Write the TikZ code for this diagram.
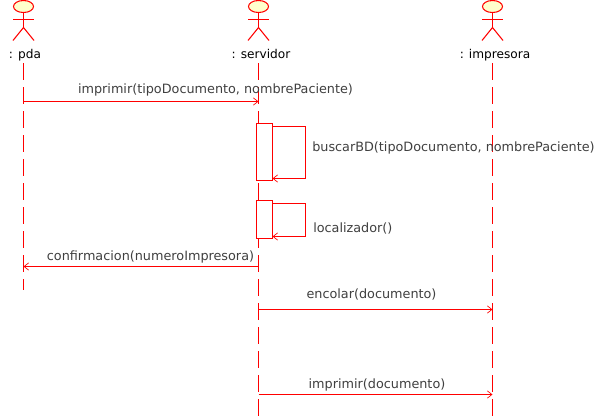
\documentclass[tikz,border=0pt]{standalone}
\usepackage{fontspec}
\setmainfont{DejaVu Sans}
\usetikzlibrary{arrows.meta,shapes.geometric}
\definecolor{umlred}{HTML}{FF0000}
\definecolor{umlhead}{HTML}{FFFFCC}
\definecolor{msgtext}{HTML}{404040}
\tikzset{
  x=0.75pt,y=-0.75pt,
  umlline/.style={draw=umlred,line width=0.8pt},
  lifeline/.style={umlline,dash pattern=on 12.75pt off 5.25pt},
  msgarrow/.style={umlline,-{Straight Barb[length=3.5pt,width=5.5pt,line width=0.5pt]}},
  msglabel/.style={text=msgtext,font=\fontsize{9.6}{11}\selectfont,inner sep=0pt,anchor=base},
  msgleft/.style={msglabel,anchor=base west},
  actorlabel/.style={text=black,font=\fontsize{9.1}{11}\selectfont,inner sep=0pt,anchor=base},
  headshape/.style={umlline,fill=umlhead,ellipse,minimum width=15pt,minimum height=9pt,inner sep=0pt,outer sep=0pt},
  actbox/.style={umlline,fill=white,minimum width=12pt,inner sep=0pt,outer sep=0pt,anchor=north west},
}
\newcommand{\actor}[2]{%
  \node[headshape] (#1head) at (#2,6.5) {};
  \coordinate (#1hip) at (#2,27.5);
  \coordinate (#1arml) at (#2-10.5,19.5);
  \coordinate (#1armr) at (#2+10.5,19.5);
  \coordinate (#1legl) at (#2-10.5,40.5);
  \coordinate (#1legr) at (#2+10.5,40.5);
  \draw[umlline] (#1head.south) -- (#1hip);
  \draw[umlline] (#1arml) -- (#1armr);
  \draw[umlline] (#1legl) -- (#1hip) -- (#1legr);
}
\begin{document}
\begin{tikzpicture}
\useasboundingbox[fill=white] (0,0) rectangle (600,418);
% lifelines
\coordinate (pdatop) at (23.5,63);
\coordinate (pdaend) at (23.5,290);
\coordinate (servtop) at (258.5,63);
\coordinate (servend) at (258.5,417);
\coordinate (imptop) at (492.5,63);
\coordinate (impend) at (492.5,417);
\draw[lifeline] (pdatop) -- (pdaend);
\draw[lifeline] (servtop) -- (servend);
\draw[lifeline] (imptop) -- (impend);
% actors
\actor{pda}{23.5}
\actor{serv}{258.5}
\actor{imp}{492.5}
\node[actorlabel] (pdalabel) at (25,58) {: pda};
\node[actorlabel] (servlabel) at (261,58) {: servidor};
\node[actorlabel] (implabel) at (495,58) {: impresora};
% activations
\node[actbox,minimum height=42.75pt] (act1) at (256.5,123.5) {};
\node[actbox,minimum height=28.5pt] (act2) at (256.5,200.5) {};
% messages
\coordinate (m1a) at (23.5,101.5);
\coordinate (m1b) at (258.5,101.5);
\draw[msgarrow] (m1a) -- (m1b);
\node[msglabel] (m1) at (215.5,93) {imprimir(tipoDocumento, nombrePaciente)};
\coordinate (l1a) at (272.5,126.5);
\coordinate (l1b) at (305.5,126.5);
\coordinate (l1c) at (305.5,178.5);
\coordinate (l1d) at (272.5,178.5);
\draw[msgarrow] (l1a) -- (l1b) -- (l1c) -- (l1d);
\node[msgleft] (m2) at (312,151) {buscarBD(tipoDocumento, nombrePaciente)};
\coordinate (l2a) at (272.5,203.5);
\coordinate (l2b) at (305.5,203.5);
\coordinate (l2c) at (305.5,236.5);
\coordinate (l2d) at (272.5,236.5);
\draw[msgarrow] (l2a) -- (l2b) -- (l2c) -- (l2d);
\node[msgleft] (m3) at (313,232) {localizador()};
\coordinate (m4a) at (258.5,266.5);
\coordinate (m4b) at (23.5,266.5);
\draw[msgarrow] (m4a) -- (m4b);
\node[msglabel] (m4) at (150.5,260.5) {confirmacion(numeroImpresora)};
\coordinate (m5a) at (258.5,309.5);
\coordinate (m5b) at (492.5,309.5);
\draw[msgarrow] (m5a) -- (m5b);
\node[msglabel] (m5) at (371.5,298.5) {encolar(documento)};
\coordinate (m6a) at (258.5,394.5);
\coordinate (m6b) at (492.5,394.5);
\draw[msgarrow] (m6a) -- (m6b);
\node[msglabel] (m6) at (377,388) {imprimir(documento)};
\end{tikzpicture}
\end{document}
